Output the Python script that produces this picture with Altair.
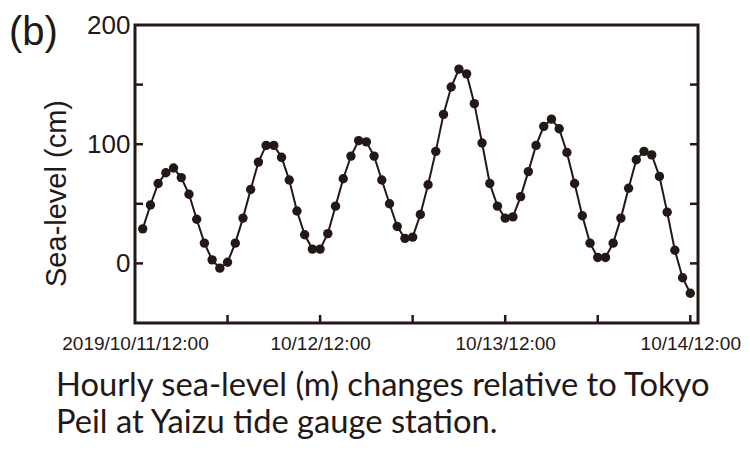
import altair as alt
import pandas as pd

# Hours after 2019/10/11 12:00
hours = list(range(1, 73))
sea_level_cm = [29, 49, 67, 76, 80, 72, 58, 37, 17, 3, -4, 1,
                17, 38, 62, 85, 99, 99, 89, 70, 44, 24, 12, 12,
                25, 48, 71, 90, 103, 102, 90, 70, 50, 31, 21, 22,
                41, 66, 94, 125, 148, 163, 159, 134, 101, 67, 48, 38,
                39, 56, 77, 99, 115, 121, 113, 93, 67, 40, 17, 5,
                5, 17, 38, 63, 87, 94, 91, 73, 43, 11, -12, -25]

x_tick_hours = [12, 24, 36, 48, 60, 72]
x_label_hours = [0, 24, 48, 72]
x_labels = ["2019/10/11/12:00", "10/12/12:00", "10/13/12:00", "10/14/12:00"]
y_ticks = [0, 50, 100, 150]
y_labels = [0, 100, 200]
caption_lines = ["Hourly sea-level (m) changes relative to Tokyo",
                 "Peil at Yaizu tide gauge station."]

INK = "#231815"
W, H = 563, 298

df = pd.DataFrame({"hour": hours, "level": sea_level_cm})
xscale = alt.Scale(domain=[0, 73], nice=False, zero=False)
yscale = alt.Scale(domain=[-50, 200], nice=False, zero=False)

label_expr = " : ".join(
    f"datum.value == {h} ? '{t}'" for h, t in zip(x_label_hours, x_labels)
) + " : ''"

xaxis = alt.Axis(values=x_label_hours, labelExpr=label_expr, ticks=False, domain=False,
                 grid=False, title=None, labelFont="Liberation Sans", labelFontSize=19,
                 labelColor=INK, labelPadding=11, labelFlush=False, labelOverlap=False)
yaxis = alt.Axis(values=y_labels, ticks=False, domain=False, grid=False,
                 title="Sea-level  (cm)", titleFont="Liberation Sans", titleFontSize=29,
                 titleFontWeight="normal", titleColor=INK, titleAngle=-90,
                 titleX=-70, titleY=168, titleAlign="center", titleBaseline="alphabetic",
                 labelFont="Liberation Sans", labelFontSize=26, labelColor=INK,
                 labelPadding=5, labelFlush=False)

base = alt.Chart(df)
line = base.mark_line(color=INK, strokeWidth=2).encode(
    x=alt.X("hour:Q", scale=xscale, axis=xaxis),
    y=alt.Y("level:Q", scale=yscale, axis=yaxis),
)
points = base.mark_point(filled=True, color=INK, size=88, opacity=1).encode(
    x=alt.X("hour:Q", scale=xscale),
    y=alt.Y("level:Q", scale=yscale),
)

ytick_df = pd.DataFrame({"v": y_ticks})
left_ticks = alt.Chart(ytick_df).mark_rule(color=INK, strokeWidth=2.5).encode(
    y=alt.Y("v:Q", scale=yscale), x=alt.value(0), x2=alt.value(8))
right_ticks = alt.Chart(ytick_df).mark_rule(color=INK, strokeWidth=2.5).encode(
    y=alt.Y("v:Q", scale=yscale), x=alt.value(W - 8), x2=alt.value(W))
xtick_df = pd.DataFrame({"h": x_tick_hours})
bottom_ticks = alt.Chart(xtick_df).mark_rule(color=INK, strokeWidth=2.5).encode(
    x=alt.X("h:Q", scale=xscale), y=alt.value(H - 8), y2=alt.value(H))

panel = alt.Chart(pd.DataFrame({"t": ["(b)"]})).mark_text(
    font="Liberation Sans", fontSize=40, color=INK, align="left", baseline="alphabetic"
).encode(text="t:N", x=alt.value(-126), y=alt.value(20))

cap1 = alt.Chart(pd.DataFrame({"t": [caption_lines[0]]})).mark_text(
    font="Lato", fontSize=32.7, color=INK, align="left", baseline="alphabetic"
).encode(text="t:N", x=alt.value(-79), y=alt.value(371))
cap2 = alt.Chart(pd.DataFrame({"t": [caption_lines[1]]})).mark_text(
    font="Lato", fontSize=32.7, color=INK, align="left", baseline="alphabetic"
).encode(text="t:N", x=alt.value(-79), y=alt.value(408))

chart = alt.layer(line, points, left_ticks, right_ticks, bottom_ticks, panel, cap1, cap2).properties(
    width=W, height=H,
    background="white",
    autosize=alt.AutoSizeParams(type="none"),
    padding={"left": 127, "top": 17, "right": 44, "bottom": 119},
).configure_view(stroke=INK, strokeWidth=3)

chart.save("out.html", embed_options={"renderer": "svg", "actions": False})
